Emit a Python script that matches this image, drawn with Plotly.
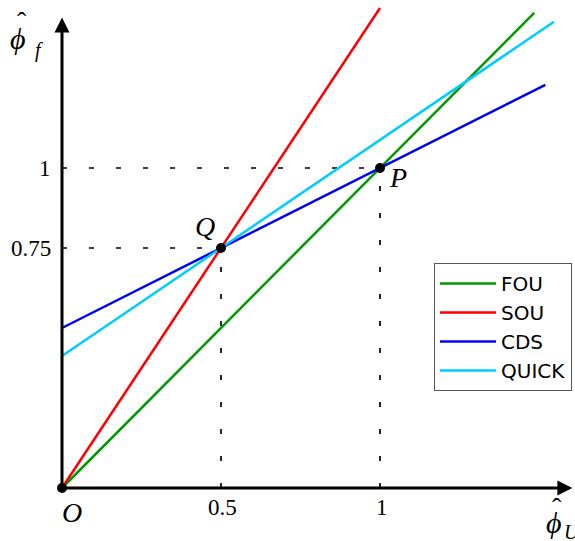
import plotly.graph_objects as go

# ---- data ----
fou_x = [0.0, 1.485]
fou_y = [0.0, 1.485]
sou_x = [0.0, 1.0]
sou_y = [0.0, 1.5]
cds_x = [0.0, 1.52]
cds_y = [0.5, 1.26]
quick_x = [0.0, 1.547]
quick_y = [0.4125, 1.457]

pts_x = [0.0, 0.5, 1.0]
pts_y = [0.0, 0.75, 1.0]
pt_names = ["O", "Q", "P"]

ytick_vals = [1.0, 0.75]
ytick_text = ["1", "0.75"]
xtick_vals = [0.5, 1.0]
xtick_text = ["0.5", "1"]

W, H = 575, 541
X0PX, Y0PX = 62, 488
SX, SY = 318.0, 320.0
xr = [-X0PX / SX, (W - X0PX) / SX]
yr = [-(H - Y0PX) / SY, Y0PX / SY]

fig = go.Figure()

# dashed guide lines
dash = "5px,22px"
guides = [
    ([0, 1.0], [1.0, 1.0]),
    ([0, 0.5], [0.75, 0.75]),
    ([0.5, 0.5], [0, 0.75]),
    ([1.0, 1.0], [0, 1.0]),
]
for gx, gy in guides:
    fig.add_trace(go.Scatter(x=gx, y=gy, mode="lines", showlegend=False,
                             line=dict(color="black", width=1.7, dash=dash),
                             hoverinfo="skip"))

series = [
    ("FOU", fou_x, fou_y, "#009900"),
    ("SOU", sou_x, sou_y, "#ff0000"),
    ("CDS", cds_x, cds_y, "#0000ee"),
    ("QUICK", quick_x, quick_y, "#00ccff"),
]
for name, sx, sy, col in series:
    fig.add_trace(go.Scatter(x=sx, y=sy, mode="lines", name=name,
                             line=dict(color=col, width=2.5)))

fig.add_trace(go.Scatter(x=pts_x, y=pts_y, mode="markers", showlegend=False,
                         marker=dict(color="black", size=10)))

serif = "Liberation Serif"
ann = []
# axes arrows
ann.append(dict(x=0, y=1.47, ax=0, ay=0, xref="x", yref="y", axref="x", ayref="y",
                showarrow=True, arrowhead=2, arrowsize=1.0, arrowwidth=3,
                arrowcolor="black", text=""))
ann.append(dict(x=1.605, y=0, ax=0, ay=0, xref="x", yref="y", axref="x", ayref="y",
                showarrow=True, arrowhead=2, arrowsize=1.0, arrowwidth=3,
                arrowcolor="black", text=""))
# tick labels
for v, t in zip(ytick_vals, ytick_text):
    ann.append(dict(x=-0.028, y=v, xref="x", yref="y", text=t, showarrow=False,
                    xanchor="right", yanchor="middle",
                    font=dict(family=serif, size=23, color="black")))
for v, t in zip(xtick_vals, xtick_text):
    ann.append(dict(x=v + 0.005, y=-0.06, xref="x", yref="y", text=t, showarrow=False,
                    xanchor="center", yanchor="middle",
                    font=dict(family=serif, size=23, color="black")))
# point labels
lbl_pos = {"O": (0.031, -0.077), "Q": (0.45, 0.818), "P": (1.057, 0.97)}
for n in pt_names:
    lx, ly = lbl_pos[n]
    ann.append(dict(x=lx, y=ly, xref="x", yref="y", text="<i>%s</i>" % n,
                    showarrow=False, xanchor="center", yanchor="middle",
                    font=dict(family=serif, size=28, color="black")))


def px_ann(px, py, text, size, anchor="center"):
    return dict(x=px / W, y=1 - py / H, xref="paper", yref="paper", text=text,
                showarrow=False, xanchor=anchor, yanchor="middle",
                font=dict(family=serif, size=size, color="black"))


# axis titles (phi with hat and subscript)
ann.append(px_ann(18, 38, "<i>ϕ</i>", 30))
ann.append(px_ann(22, 22, "ˆ", 28))
ann.append(px_ann(39, 50, "<i>f</i>", 20))
ann.append(px_ann(554, 522, "<i>ϕ</i>", 30))
ann.append(px_ann(557, 507, "ˆ", 28))
ann.append(px_ann(562, 532, "<i>U</i>", 20, anchor="left"))

fig.update_layout(
    width=W, height=H,
    margin=dict(l=0, r=0, t=0, b=0, pad=0, autoexpand=False),
    paper_bgcolor="white", plot_bgcolor="white",
    xaxis=dict(range=xr, visible=False, fixedrange=True),
    yaxis=dict(range=yr, visible=False, fixedrange=True),
    annotations=ann,
    legend=dict(x=434 / W, y=1 - 263 / H, xanchor="left", yanchor="top",
                bordercolor="#555555", borderwidth=1, bgcolor="white",
                font=dict(family="DejaVu Sans", size=20, color="black"),
                itemwidth=56, tracegroupgap=0),
    showlegend=True,
)

fig.write_html("out.html")
